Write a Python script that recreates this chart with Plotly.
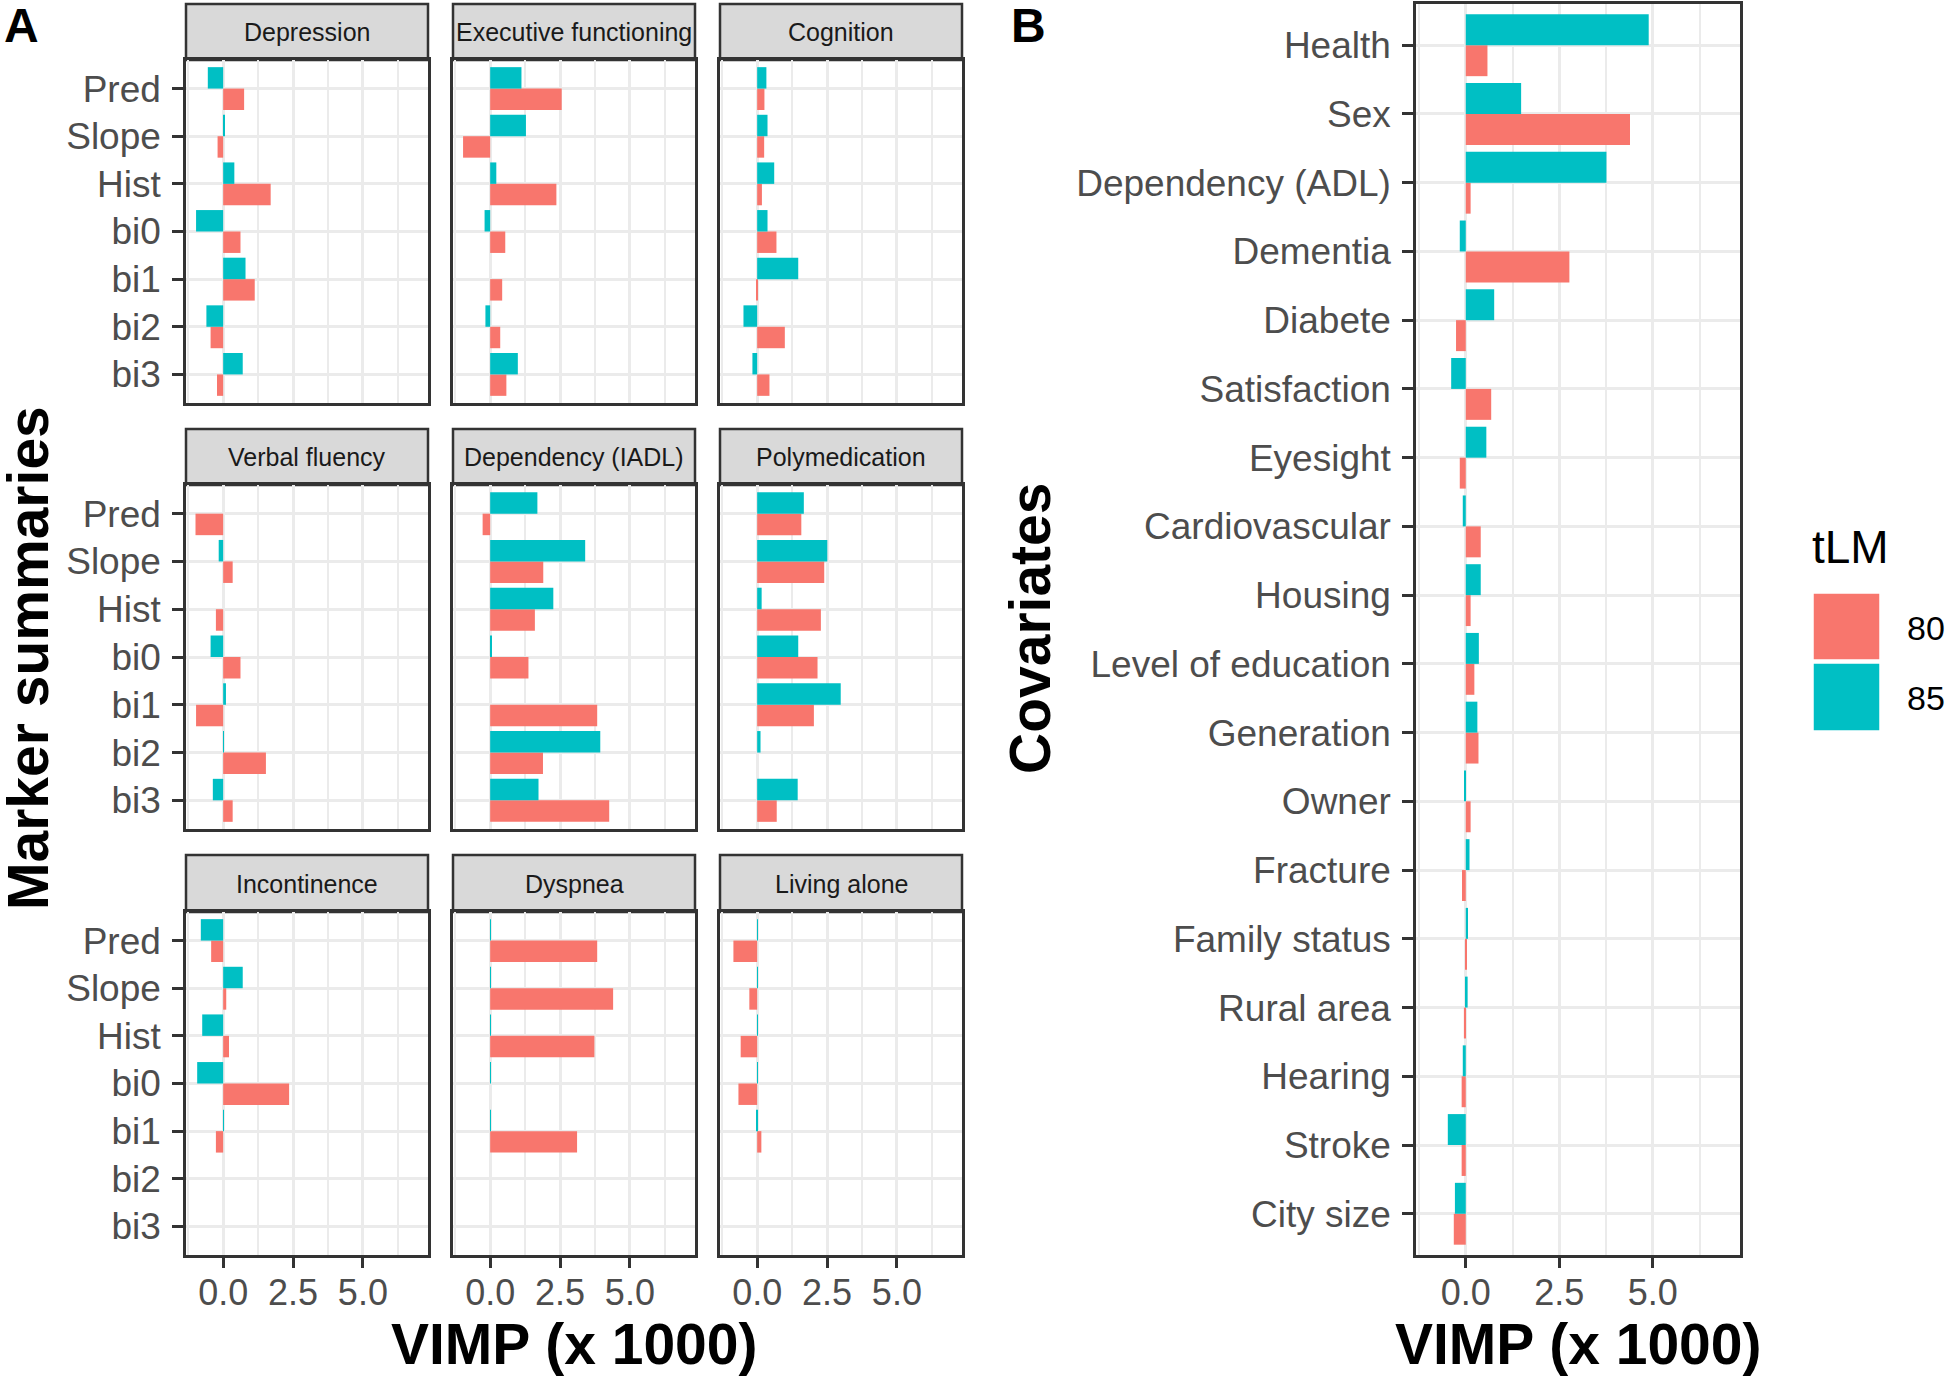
import plotly.graph_objects as go

# ---------------- data ----------------
markers = ["Pred", "Slope", "Hist", "bi0", "bi1", "bi2", "bi3"]
facet_names = ["Depression", "Executive functioning", "Cognition",
               "Verbal fluency", "Dependency (IADL)", "Polymedication",
               "Incontinence", "Dyspnea", "Living alone"]

depression_80 = [0.75, -0.20, 1.70, 0.62, 1.13, -0.45, -0.22]
depression_85 = [-0.55, 0.05, 0.40, -0.97, 0.80, -0.60, 0.70]
executive_80 = [2.56, -0.97, 2.37, 0.54, 0.43, 0.36, 0.58]
executive_85 = [1.12, 1.28, 0.22, -0.20, None, -0.17, 0.99]
cognition_80 = [0.26, 0.25, 0.17, 0.69, -0.03, 0.99, 0.44]
cognition_85 = [0.33, 0.37, 0.61, 0.37, 1.47, -0.49, -0.17]
verbal_80 = [-0.99, 0.34, -0.26, 0.62, -0.97, 1.53, 0.34]
verbal_85 = [None, -0.16, None, -0.45, 0.10, 0.03, -0.37]
iadl_80 = [-0.27, 1.90, 1.60, 1.37, 3.83, 1.89, 4.26]
iadl_85 = [1.69, 3.40, 2.26, 0.06, None, 3.94, 1.73]
polymed_80 = [1.58, 2.40, 2.28, 2.16, 2.03, None, 0.70]
polymed_85 = [1.67, 2.51, 0.16, 1.47, 2.99, 0.12, 1.45]
incont_80 = [-0.43, 0.11, 0.21, 2.36, -0.26, None, None]
incont_85 = [-0.80, 0.70, -0.75, -0.93, 0.03, None, None]
dyspnea_80 = [3.83, 4.40, 3.73, None, 3.11, None, None]
dyspnea_85 = [0.01, 0.01, 0.01, 0.01, 0.01, None, None]
living_80 = [-0.85, -0.28, -0.59, -0.67, 0.15, None, None]
living_85 = [0.01, 0.01, 0.01, 0.01, -0.02, None, None]

covariates = ["Health", "Sex", "Dependency (ADL)", "Dementia", "Diabete",
              "Satisfaction", "Eyesight", "Cardiovascular", "Housing",
              "Level of education", "Generation", "Owner", "Fracture",
              "Family status", "Rural area", "Hearing", "Stroke", "City size"]
cov_80 = [0.58, 4.39, 0.13, 2.77, -0.26, 0.68, -0.16, 0.40, 0.13, 0.23,
          0.34, 0.13, -0.10, 0.03, -0.05, -0.11, -0.11, -0.32]
cov_85 = [4.89, 1.48, 3.76, -0.16, 0.76, -0.39, 0.55, -0.08, 0.40, 0.35,
          0.31, -0.03, 0.10, 0.06, 0.05, -0.08, -0.48, -0.29]

x_tickvals = [0, 2.5, 5.0]
x_ticktext = ["0.0", "2.5", "5.0"]
group_labels = ["80", "85"]

facet_80 = [depression_80, executive_80, cognition_80, verbal_80, iadl_80,
            polymed_80, incont_80, dyspnea_80, living_80]
facet_85 = [depression_85, executive_85, cognition_85, verbal_85, iadl_85,
            polymed_85, incont_85, dyspnea_85, living_85]

# ---------------- style / layout ----------------
W, H = 1946, 1378
RED, TEAL = "#F8766D", "#00BFC4"
FONT = "Liberation Sans, Arial, Helvetica, sans-serif"
DARK = "#333333"
GRID = "#EBEBEB"
XR = [-1.33, 7.33]


def px(x):
    return x / W


def py(y):
    return 1 - y / H


cols = [(186, 428), (453, 695), (720, 962)]
rows = [(4, 60, 403), (429, 485, 829), (855, 912, 1255)]
B_X, B_Y = (1416, 1740), (4, 1255)

fig = go.Figure()
layout = dict(width=W, height=H, margin=dict(l=0, r=0, t=0, b=0),
              paper_bgcolor="white", plot_bgcolor="white",
              barmode="group", bargap=0.1, bargroupgap=0,
              showlegend=False, font=dict(family=FONT, color="#4D4D4D"))
shapes, annotations = [], []


def x_axis(domain, anchor, show_ticks):
    return dict(domain=domain, anchor=anchor, range=XR, tickvals=x_tickvals,
                ticktext=x_ticktext, showticklabels=show_ticks,
                ticks="outside" if show_ticks else "", ticklen=10, tickwidth=3,
                tickcolor=DARK, ticklabelstandoff=-6,
                tickfont=dict(size=36, color="#4D4D4D", family=FONT),
                showline=True, mirror=True, linecolor=DARK, linewidth=2.5,
                showgrid=True, gridcolor=GRID, gridwidth=3, zeroline=False,
                minor=dict(tickvals=[-1.25, 1.25, 3.75, 6.25], showgrid=True,
                           gridcolor=GRID, gridwidth=1.5, ticks=""),
                fixedrange=True)


def y_axis(domain, anchor, cats, show_ticks):
    n = len(cats)
    return dict(domain=domain, anchor=anchor, type="category",
                categoryorder="array", categoryarray=list(reversed(cats)),
                range=[-0.6, n - 1 + 0.6], showticklabels=show_ticks,
                ticks="outside" if show_ticks else "", ticklen=11, tickwidth=3,
                tickcolor=DARK, ticklabelstandoff=4,
                tickfont=dict(size=37, color="#4D4D4D", family=FONT),
                showline=True, mirror=True, linecolor=DARK, linewidth=2.5,
                showgrid=True, gridcolor=GRID, gridwidth=3, zeroline=False,
                fixedrange=True)


for i, name in enumerate(facet_names):
    r, c = divmod(i, 3)
    k = "" if i == 0 else str(i + 1)
    x0, x1 = cols[c]
    st, pt, pb = rows[r]
    layout["xaxis" + k] = x_axis([px(x0), px(x1)], "y" + k, r == 2)
    layout["yaxis" + k] = y_axis([py(pb), py(pt)], "x" + k, markers, c == 0)
    for vals, col in ((facet_80[i], RED), (facet_85[i], TEAL)):
        fig.add_trace(go.Bar(x=vals, y=markers, orientation="h",
                             marker=dict(color=col, line=dict(width=0)),
                             xaxis="x" + k, yaxis="y" + k))
    # strip
    shapes.append(dict(type="rect", xref="paper", yref="paper",
                       x0=px(x0), x1=px(x1), y0=py(pt), y1=py(st),
                       fillcolor="#D9D9D9", line=dict(color=DARK, width=2.5),
                       layer="below"))
    annotations.append(dict(text=name, x=px((x0 + x1) / 2), y=py((st + pt) / 2),
                            xref="paper", yref="paper", showarrow=False,
                            font=dict(size=25, color="#1A1A1A", family=FONT),
                            xanchor="center", yanchor="middle"))

# panel B
kb = str(len(facet_names) + 1)
layout["xaxis" + kb] = x_axis([px(B_X[0]), px(B_X[1])], "y" + kb, True)
layout["yaxis" + kb] = y_axis([py(B_Y[1]), py(B_Y[0])], "x" + kb, covariates, True)
for vals, col in ((cov_80, RED), (cov_85, TEAL)):
    fig.add_trace(go.Bar(x=vals, y=covariates, orientation="h",
                         marker=dict(color=col, line=dict(width=0)),
                         xaxis="x" + kb, yaxis="y" + kb))

# titles
title_font = dict(size=57, color="black", family=FONT)
annotations += [
    dict(text="<b>VIMP (x 1000)</b>", x=px(574), y=py(1344), xref="paper", yref="paper",
         showarrow=False, font=title_font, xanchor="center", yanchor="middle"),
    dict(text="<b>VIMP (x 1000)</b>", x=px(1578), y=py(1344), xref="paper", yref="paper",
         showarrow=False, font=title_font, xanchor="center", yanchor="middle"),
    dict(text="<b>Marker summaries</b>", x=px(28), y=py(658), xref="paper", yref="paper",
         showarrow=False, font=title_font, textangle=-90, xanchor="center", yanchor="middle"),
    dict(text="<b>Covariates</b>", x=px(1030), y=py(628), xref="paper", yref="paper",
         showarrow=False, font=title_font, textangle=-90, xanchor="center", yanchor="middle"),
    dict(text="<b>A</b>", x=px(21), y=py(25), xref="paper", yref="paper",
         showarrow=False, font=dict(size=48, color="black", family=FONT),
         xanchor="center", yanchor="middle"),
    dict(text="<b>B</b>", x=px(1028), y=py(25), xref="paper", yref="paper",
         showarrow=False, font=dict(size=48, color="black", family=FONT),
         xanchor="center", yanchor="middle"),
    dict(text="tLM", x=px(1810), y=py(547), xref="paper", yref="paper",
         showarrow=False, font=dict(size=46, color="black", family=FONT),
         xanchor="left", yanchor="middle"),
]

# legend keys
for (ky0, ky1), col, lab in zip([(593, 660), (663, 731)], [RED, TEAL], group_labels):
    shapes.append(dict(type="rect", xref="paper", yref="paper",
                       x0=px(1813), x1=px(1880), y0=py(ky1), y1=py(ky0),
                       fillcolor=col, line=dict(color="white", width=1.5)))
    annotations.append(dict(text=lab, x=px(1905), y=py((ky0 + ky1) / 2 + 1),
                            xref="paper", yref="paper", showarrow=False,
                            font=dict(size=34, color="black", family=FONT),
                            xanchor="left", yanchor="middle"))

layout["shapes"] = shapes
layout["annotations"] = annotations
fig.update_layout(**layout)
fig.write_html("out.html", config={"displayModeBar": False},
               post_script="document.body.style.margin='0px';"
                           "document.body.style.overflow='hidden';")
